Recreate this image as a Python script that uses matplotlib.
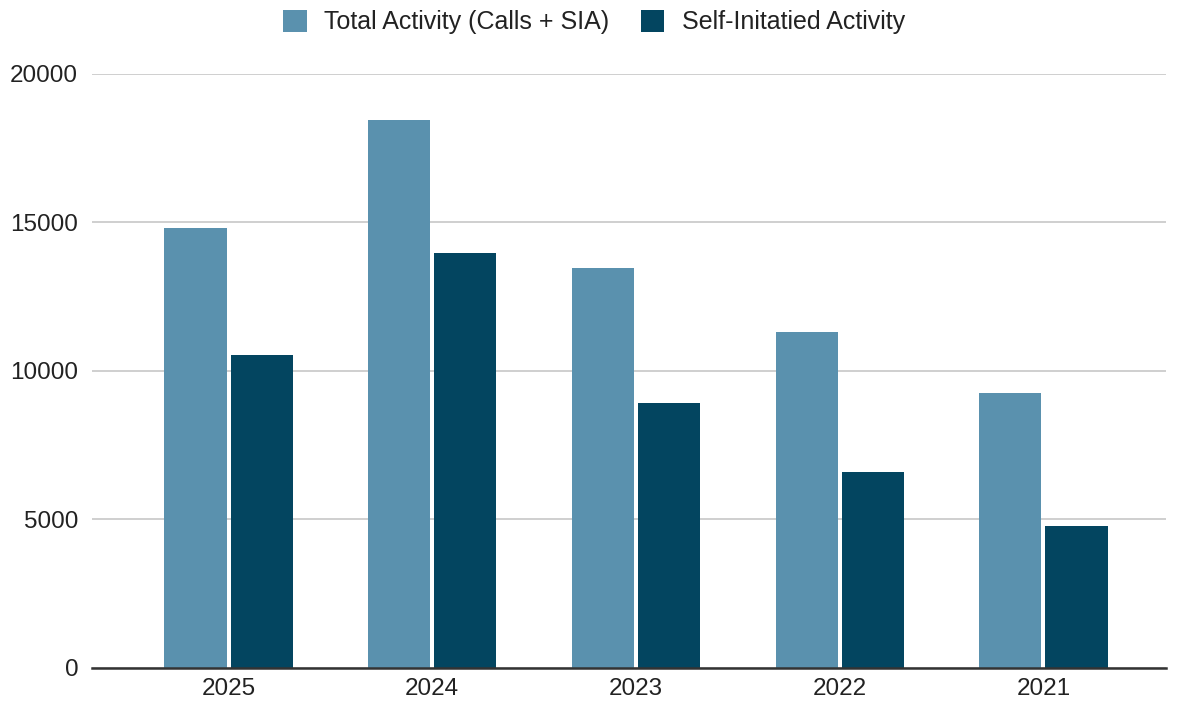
import numpy as np
import matplotlib.pyplot as plt
from matplotlib.patches import Patch

# Datos
years = ["2025", "2024", "2023", "2022", "2021"]
total_activity = [14800, 18430, 13460, 11300, 9260]
self_initiated = [10540, 13960, 8910, 6610, 4780]

light = "#5a91ae"
dark = "#034560"

plt.rcParams['font.family'] = ['Liberation Sans', 'DejaVu Sans']

fig = plt.figure(figsize=(11.81, 7.09), dpi=100)
ax = fig.add_axes([0.078, 0.058, 0.909, 0.838])

x = np.arange(len(years))
w = 0.305
ax.bar(x - 0.1625, total_activity, width=w, color=light, zorder=3)
ax.bar(x + 0.1625, self_initiated, width=w, color=dark, zorder=3)

ax.set_ylim(0, 20000)
ax.set_xlim(-0.67, 4.6)
ax.set_yticks([0, 5000, 10000, 15000, 20000])
ax.set_xticks(x)
ax.set_xticklabels(years)

ax.grid(axis='y', color='#cccccc', linewidth=1.3, zorder=0)
for s in ['top', 'right', 'left']:
    ax.spines[s].set_visible(False)
ax.spines['bottom'].set_color('#333333')
ax.spines['bottom'].set_linewidth(1.8)
ax.spines['bottom'].set_zorder(4)
ax.tick_params(axis='both', length=0, labelsize=17.5, colors='#222222')
ax.tick_params(axis='y', pad=10)
ax.tick_params(axis='x', pad=7)

# Leyenda arriba, centrada
handles = [Patch(facecolor=light, label='Total Activity (Calls + SIA)'),
           Patch(facecolor=dark, label='Self-Initatied Activity')]
fig.legend(handles=handles, loc='center', bbox_to_anchor=(0.503, 0.969), ncol=2,
           frameon=False, fontsize=18, handlelength=0.95, handleheight=1.0,
           handletextpad=0.7, columnspacing=1.25, labelcolor='#222222')

plt.savefig("out.png")
